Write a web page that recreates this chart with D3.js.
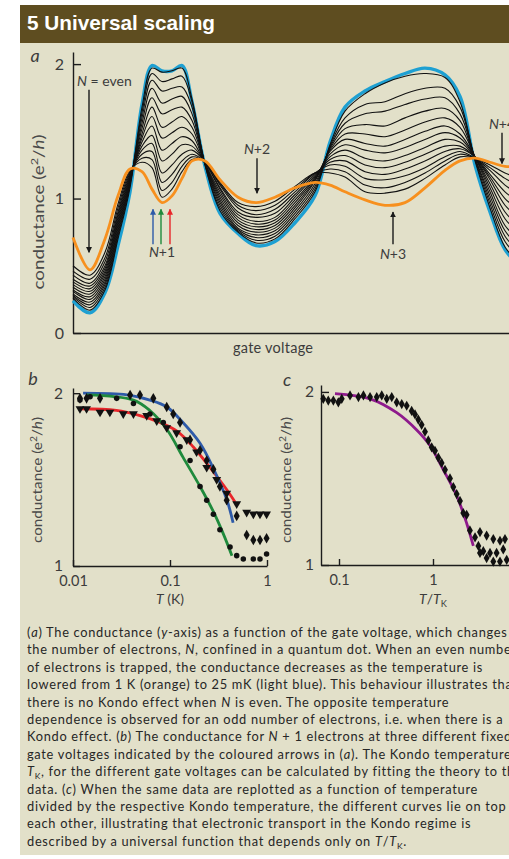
<!DOCTYPE html>
<meta charset="utf-8">
<title>Universal scaling</title>
<script src="https://cdn.jsdelivr.net/npm/d3@7/dist/d3.min.js"></script>
<style>
  body { margin: 0; background: #fff; overflow: hidden; }
  text { font-family: Lato, "Liberation Sans", sans-serif; }
</style>
<body>
<script>

// ---- panel a : conductance vs gate voltage (arbitrary units) ----
var gateV = [0, 17, 32, 45, 57, 69, 79, 89, 99, 109, 119, 132, 147, 165, 183, 202, 222, 242, 257, 272, 292, 312, 332, 352, 372, 387, 402, 417, 432, 447];

// 25 mK (light blue)
var coldG = [0.24, 0.15, 0.30, 0.65, 1.05, 1.70, 1.99, 1.95, 1.95, 1.99, 1.72, 1.24, 0.89, 0.74, 0.65, 0.68, 0.82, 1.02, 1.42, 1.68, 1.80, 1.87, 1.93, 1.97, 1.92, 1.76, 1.25, 0.90, 0.62, 0.50];
// 1 K (orange)
var hotG = [0.71, 0.47, 0.70, 1.02, 1.22, 1.20, 1.07, 0.97, 1.02, 1.15, 1.28, 1.28, 1.14, 1.01, 0.97, 1.01, 1.08, 1.12, 1.10, 1.05, 0.99, 0.95, 0.97, 1.08, 1.21, 1.28, 1.30, 1.27, 1.24, 1.24];
// intermediate temperatures (black), coldest first
var midG = [
  [0.26, 0.17, 0.32, 0.70, 1.08, 1.68, 1.97, 1.94, 1.95, 1.97, 1.74, 1.25, 0.91, 0.75, 0.67, 0.70, 0.85, 1.05, 1.40, 1.65, 1.78, 1.86, 1.91, 1.93, 1.90, 1.72, 1.28, 0.93, 0.64, 0.52],
  [0.27, 0.19, 0.34, 0.72, 1.10, 1.64, 1.93, 1.87, 1.89, 1.91, 1.72, 1.25, 0.93, 0.76, 0.69, 0.72, 0.87, 1.07, 1.39, 1.60, 1.70, 1.72, 1.78, 1.82, 1.82, 1.68, 1.29, 0.96, 0.68, 0.56],
  [0.28, 0.21, 0.36, 0.74, 1.11, 1.60, 1.88, 1.80, 1.82, 1.83, 1.68, 1.26, 0.95, 0.77, 0.71, 0.74, 0.89, 1.09, 1.38, 1.56, 1.63, 1.65, 1.70, 1.74, 1.75, 1.63, 1.30, 0.99, 0.72, 0.60],
  [0.29, 0.23, 0.38, 0.76, 1.12, 1.56, 1.82, 1.71, 1.74, 1.76, 1.63, 1.26, 0.97, 0.78, 0.73, 0.76, 0.91, 1.11, 1.37, 1.52, 1.55, 1.54, 1.60, 1.65, 1.67, 1.58, 1.30, 1.02, 0.76, 0.64],
  [0.31, 0.25, 0.40, 0.78, 1.13, 1.52, 1.75, 1.63, 1.66, 1.68, 1.58, 1.26, 0.99, 0.80, 0.75, 0.78, 0.93, 1.13, 1.36, 1.48, 1.48, 1.46, 1.51, 1.57, 1.60, 1.53, 1.31, 1.05, 0.80, 0.69],
  [0.32, 0.27, 0.42, 0.80, 1.14, 1.48, 1.68, 1.53, 1.57, 1.61, 1.53, 1.26, 1.01, 0.82, 0.77, 0.80, 0.95, 1.14, 1.35, 1.44, 1.41, 1.39, 1.44, 1.50, 1.54, 1.48, 1.31, 1.08, 0.85, 0.74],
  [0.34, 0.29, 0.44, 0.82, 1.15, 1.45, 1.61, 1.45, 1.49, 1.53, 1.48, 1.26, 1.03, 0.84, 0.79, 0.82, 0.97, 1.15, 1.33, 1.40, 1.36, 1.34, 1.38, 1.44, 1.49, 1.45, 1.31, 1.11, 0.90, 0.79],
  [0.36, 0.31, 0.46, 0.84, 1.16, 1.42, 1.54, 1.36, 1.41, 1.46, 1.43, 1.26, 1.05, 0.86, 0.81, 0.84, 0.99, 1.16, 1.31, 1.36, 1.30, 1.28, 1.32, 1.38, 1.44, 1.42, 1.31, 1.14, 0.95, 0.85],
  [0.38, 0.33, 0.48, 0.86, 1.17, 1.39, 1.47, 1.28, 1.33, 1.40, 1.39, 1.27, 1.07, 0.88, 0.83, 0.86, 1.01, 1.17, 1.29, 1.32, 1.25, 1.23, 1.27, 1.33, 1.39, 1.39, 1.31, 1.16, 1.00, 0.91],
  [0.40, 0.35, 0.50, 0.88, 1.18, 1.36, 1.41, 1.19, 1.25, 1.33, 1.36, 1.27, 1.08, 0.90, 0.86, 0.89, 1.03, 1.18, 1.27, 1.28, 1.20, 1.18, 1.22, 1.28, 1.35, 1.37, 1.31, 1.18, 1.05, 0.97],
  [0.43, 0.37, 0.53, 0.90, 1.19, 1.33, 1.35, 1.12, 1.18, 1.28, 1.33, 1.27, 1.10, 0.93, 0.88, 0.92, 1.05, 1.19, 1.25, 1.24, 1.15, 1.14, 1.17, 1.23, 1.31, 1.35, 1.30, 1.21, 1.10, 1.03],
  [0.46, 0.40, 0.56, 0.93, 1.20, 1.30, 1.29, 1.06, 1.12, 1.24, 1.31, 1.27, 1.11, 0.95, 0.91, 0.95, 1.07, 1.19, 1.22, 1.20, 1.10, 1.08, 1.12, 1.19, 1.28, 1.33, 1.30, 1.23, 1.15, 1.09],
  [0.50, 0.43, 0.60, 0.96, 1.21, 1.27, 1.23, 1.01, 1.07, 1.20, 1.29, 1.28, 1.12, 0.97, 0.94, 0.98, 1.09, 1.19, 1.19, 1.16, 1.05, 1.04, 1.07, 1.15, 1.25, 1.31, 1.30, 1.25, 1.19, 1.15]
];

// arrows in (a): gate voltage, start and tip conductance
var arrowsA = [
  { label: "N = even", gv: 16, from: 1.81, to: 0.60 },
  { label: "N+2", gv: 184, from: 1.30, to: 1.04 },
  { label: "N+3", gv: 320, from: 0.66, to: 0.90 },
  { label: "N+4", gv: 429, from: 1.49, to: 1.26 }
];
var kondoArrowGV = [80, 88, 97];
var kondoColors = ["#2e5aa8", "#1f8a3c", "#e8262a"];

// ---- panel b : conductance vs temperature (K) ----
var redFitT = [0.0118, 0.028, 0.049, 0.079, 0.118, 0.173, 0.258, 0.387, 0.468];
var redFitG = [1.91, 1.90, 1.87, 1.83, 1.78, 1.69, 1.57, 1.44, 1.37];
var blueFitT = [0.0127, 0.036, 0.062, 0.093, 0.136, 0.204, 0.277, 0.387, 0.447];
var blueFitG = [2.00, 1.99, 1.96, 1.92, 1.83, 1.71, 1.57, 1.38, 1.25];
var greenFitT = [0.0138, 0.042, 0.062, 0.093, 0.136, 0.204, 0.277, 0.352, 0.435];
var greenFitG = [1.99, 1.96, 1.90, 1.79, 1.63, 1.46, 1.32, 1.19, 1.06];

var triT = [0.0118, 0.0138, 0.019, 0.024, 0.033, 0.042, 0.0575, 0.073, 0.0925, 0.117, 0.149, 0.188, 0.239, 0.303, 0.384, 0.487, 0.617, 0.723, 0.847, 0.99];
var triG = [1.91, 1.91, 1.89, 1.89, 1.88, 1.88, 1.87, 1.84, 1.80, 1.77, 1.73, 1.66, 1.57, 1.50, 1.42, 1.36, 1.31, 1.30, 1.30, 1.30];
var diaT = [0.0118, 0.0138, 0.019, 0.0388, 0.049, 0.0673, 0.0925, 0.108, 0.127, 0.161, 0.204, 0.239, 0.28, 0.327, 0.384, 0.487, 0.617, 0.723, 0.847, 0.99];
var diaG = [1.97, 1.97, 1.97, 1.99, 1.99, 1.97, 1.92, 1.88, 1.83, 1.73, 1.67, 1.61, 1.56, 1.46, 1.38, 1.29, 1.18, 1.15, 1.15, 1.16];
var dotT = [0.0118, 0.015, 0.0282, 0.042, 0.0622, 0.0853, 0.127, 0.161, 0.204, 0.239, 0.28, 0.327, 0.416, 0.487, 0.57, 0.723, 0.847, 0.99];
var dotG = [1.96, 1.98, 1.97, 1.94, 1.88, 1.83, 1.69, 1.61, 1.46, 1.38, 1.30, 1.21, 1.11, 1.06, 1.04, 1.04, 1.04, 1.07];

// ---- panel c : conductance vs T/TK ----
var univFitX = [0.0906, 0.214, 0.411, 0.671, 0.929, 1.288, 1.787, 2.285, 2.685];
var univFitG = [1.99, 1.96, 1.88, 1.78, 1.69, 1.55, 1.40, 1.24, 1.11];
var scaledX = [0.068, 0.0769, 0.0871, 0.0984, 0.107, 0.131, 0.161, 0.182, 0.214, 0.252, 0.285, 0.322, 0.364, 0.411, 0.465, 0.525, 0.593, 0.644, 0.698, 0.757, 0.822, 0.891, 0.968, 1.05, 1.14, 1.236, 1.342, 1.517, 1.645, 1.786, 1.937, 2.10, 2.28, 2.47, 2.80, 3.16, 3.72, 4.38, 5.16, 5.83, 3.04, 3.43, 4.04, 4.75, 5.59, 3.16, 3.72, 4.38, 5.16, 6.08];
var scaledG = [1.96, 1.95, 1.95, 1.94, 1.96, 1.98, 1.97, 1.98, 1.97, 1.97, 1.98, 1.96, 1.97, 1.94, 1.93, 1.92, 1.89, 1.87, 1.84, 1.81, 1.77, 1.72, 1.68, 1.66, 1.62, 1.59, 1.55, 1.50, 1.45, 1.41, 1.37, 1.30, 1.29, 1.20, 1.16, 1.19, 1.17, 1.15, 1.14, 1.15, 1.11, 1.08, 1.07, 1.07, 1.09, 1.07, 1.04, 1.02, 1.02, 1.03];

var captionLines = [
  "(*a*) The conductance (*y*-axis) as a function of the gate voltage, which changes",
  "the number of electrons, *N*, confined in a quantum dot. When an even number",
  "of electrons is trapped, the conductance decreases as the temperature is",
  "lowered from 1 K (orange) to 25 mK (light blue). This behaviour illustrates that",
  "there is no Kondo effect when *N* is even. The opposite temperature",
  "dependence is observed for an odd number of electrons, i.e. when there is a",
  "Kondo effect. (*b*) The conductance for *N* + 1 electrons at three different fixed",
  "gate voltages indicated by the coloured arrows in (*a*). The Kondo temperature,",
  "*T*~K~, for the different gate voltages can be calculated by fitting the theory to the",
  "data. (*c*) When the same data are replotted as a function of temperature",
  "divided by the respective Kondo temperature, the different curves lie on top of",
  "each other, illustrating that electronic transport in the Kondo regime is",
  "described by a universal function that depends only on *T*/*T*~K~."
];

var bg = "#e2e0c9", ink = "#1c1c1c", grey = "#3c3c3c";

var svg = d3.select("body").append("svg")
    .attr("width", 560)
    .attr("height", 859);

svg.append("rect").attr("x", 20).attr("y", 5).attr("width", 540).attr("height", 850).attr("fill", bg);
svg.append("rect").attr("x", 20).attr("y", 5).attr("width", 540).attr("height", 38).attr("fill", "#5e4d20");
svg.append("text")
    .attr("x", 27).attr("y", 30)
    .attr("fill", "#fff")
    .attr("font-size", 21).attr("font-weight", "bold")
    .style("font-family", "'Liberation Sans Narrow', 'Liberation Sans', sans-serif")
    .attr("textLength", 188).attr("lengthAdjust", "spacingAndGlyphs")
    .text("5 Universal scaling");

// small helper: *italic*, ~subscript~, ^superscript^
function rich(sel, str) {
  str.split(/(\*[^*]+\*|~[^~]+~|\^[^^]+\^)/).filter(function(s) { return s; }).forEach(function(p) {
    if (p[0] === "*") sel.append("tspan").attr("font-style", "italic").text(p.slice(1, -1));
    else if (p[0] === "~") sel.append("tspan").attr("baseline-shift", "-2.5").attr("font-size", "66%").text(p.slice(1, -1));
    else if (p[0] === "^") sel.append("tspan").attr("baseline-shift", "super").attr("font-size", "68%").text(p.slice(1, -1));
    else sel.append("tspan").text(p);
  });
  return sel;
}

function styleAxis(g, size) {
  g.select(".domain").attr("stroke", ink).attr("stroke-width", 1.4);
  g.selectAll(".tick line").attr("stroke", ink).attr("stroke-width", 1.4);
  g.selectAll(".tick text").attr("fill", grey).attr("font-size", size)
      .style("font-family", "Lato, 'Liberation Sans', sans-serif");
}

function yLabel(x, y, len, size) {
  rich(svg.append("text")
      .attr("transform", "translate(" + x + "," + y + ") rotate(-90)")
      .attr("text-anchor", "middle")
      .attr("fill", "#4a4a4a").attr("font-size", size)
      .attr("textLength", len).attr("lengthAdjust", "spacingAndGlyphs"),
    "conductance (e^2^/*h*)");
}

// ================= panel a =================
var xA = d3.scaleLinear().domain([0, 447]).range([73, 520]);
var yA = d3.scaleLinear().domain([0, 2.09]).range([333, 52]);

svg.append("g").attr("transform", "translate(73,0)")
    .call(d3.axisLeft(yA).tickValues([0, 1, 2]).tickSizeInner(-8).tickSizeOuter(0).tickPadding(9).tickFormat(d3.format("d")))
    .call(styleAxis, 16);
svg.append("g").attr("transform", "translate(0,333)")
    .call(d3.axisBottom(xA).tickValues([]).tickSizeOuter(0))
    .call(styleAxis, 14);

var lineA = d3.line()
    .x(function(d) { return xA(d[0]); })
    .y(function(d) { return yA(d[1]); })
    .curve(d3.curveCatmullRom.alpha(0.5));

function zipA(vals) { return gateV.map(function(v, i) { return [v, vals[i]]; }); }

svg.append("path").datum(zipA(coldG)).attr("d", lineA)
    .attr("fill", "none").attr("stroke", "#1ea0d2").attr("stroke-width", 3.4);
svg.append("g").selectAll("path").data(midG).join("path")
    .attr("d", function(d) { return lineA(zipA(d)); })
    .attr("fill", "none").attr("stroke", "#111").attr("stroke-width", 1.1);
svg.append("path").datum(zipA(hotG)).attr("d", lineA)
    .attr("fill", "none").attr("stroke", "#f7901e").attr("stroke-width", 2.8);

// arrowheads
var defs = svg.append("defs");
["#1a1a1a"].concat(kondoColors).forEach(function(c, i) {
  defs.append("marker").attr("id", "ah" + i)
      .attr("viewBox", "0 0 10 10").attr("refX", 9).attr("refY", 5)
      .attr("markerWidth", 6).attr("markerHeight", 8).attr("markerUnits", "userSpaceOnUse")
      .attr("orient", "auto")
      .append("path").attr("d", "M0,0L10,5L0,10Z").attr("fill", c);
});

arrowsA.forEach(function(a) {
  svg.append("line")
      .attr("x1", xA(a.gv)).attr("x2", xA(a.gv))
      .attr("y1", yA(a.from)).attr("y2", yA(a.to))
      .attr("stroke", "#1a1a1a").attr("stroke-width", 1.4)
      .attr("marker-end", "url(#ah0)");
  var down = a.to < a.from;
  var t = svg.append("text")
      .attr("fill", grey).attr("font-size", 14)
      .attr("y", down ? yA(a.from) - 4 : yA(a.from) + 15);
  if (a.label === "N = even") {
    t.attr("x", xA(a.gv) - 12).attr("text-anchor", "start");
    rich(t, "*N* = even");
  } else {
    t.attr("x", xA(a.gv)).attr("text-anchor", "middle");
    rich(t, "*N*+" + a.label.slice(2));
  }
});

kondoArrowGV.forEach(function(gv, i) {
  svg.append("line")
      .attr("x1", xA(gv)).attr("x2", xA(gv))
      .attr("y1", yA(0.66)).attr("y2", yA(0.92))
      .attr("stroke", kondoColors[i]).attr("stroke-width", 1.4)
      .attr("marker-end", "url(#ah" + (i + 1) + ")");
});
rich(svg.append("text").attr("x", xA(89)).attr("y", yA(0.66) + 13)
    .attr("text-anchor", "middle").attr("fill", grey).attr("font-size", 14), "*N*+1");

svg.append("text").attr("x", 35).attr("y", 62).attr("font-size", 18).attr("font-style", "italic")
    .attr("fill", grey).attr("text-anchor", "middle").text("a");
yLabel(44, 212, 155, 15);
svg.append("text").attr("x", 273).attr("y", 353).attr("text-anchor", "middle")
    .attr("fill", grey).attr("font-size", 14.5).attr("textLength", 80).text("gate voltage");

// ================= panel b =================
var xB = d3.scaleLog().domain([0.01, 1]).range([73, 267]);
var yB = d3.scaleLinear().domain([1, 2.03]).range([566, 388]);

svg.append("g").attr("transform", "translate(73,0)")
    .call(d3.axisLeft(yB).tickValues([1, 2]).tickSizeInner(-7).tickSizeOuter(0).tickPadding(10).tickFormat(d3.format("d")))
    .call(styleAxis, 15.5);
svg.append("g").attr("transform", "translate(0,566)")
    .call(d3.axisBottom(xB).tickValues([0.01, 0.1, 1]).tickSizeInner(-6).tickSizeOuter(0).tickPadding(10)
      .tickFormat(function(d) { return d === 1 ? "1" : String(d); }))
    .call(styleAxis, 14.5);

var lineB = d3.line()
    .x(function(d) { return xB(d[0]); })
    .y(function(d) { return yB(d[1]); })
    .curve(d3.curveCatmullRom.alpha(0.5));
function zip(a, b) { return a.map(function(v, i) { return [v, b[i]]; }); }

[[redFitT, redFitG, "#e8262a"], [blueFitT, blueFitG, "#2e5aa8"], [greenFitT, greenFitG, "#1f8a3c"]].forEach(function(s) {
  svg.append("path").datum(zip(s[0], s[1])).attr("d", lineB)
      .attr("fill", "none").attr("stroke", s[2]).attr("stroke-width", 2.8);
});

function markers(data, sx, sy, type, size, rot) {
  svg.append("g").selectAll("path").data(data).join("path")
      .attr("d", d3.symbol().type(type).size(size))
      .attr("transform", function(d) { return "translate(" + sx(d[0]) + "," + sy(d[1]) + ") rotate(" + rot + ")"; })
      .attr("fill", "#111");
}
markers(zip(triT, triG), xB, yB, d3.symbolTriangle, 34, 180);
markers(zip(diaT, diaG), xB, yB, d3.symbolDiamond, 32, 0);
markers(zip(dotT, dotG), xB, yB, d3.symbolCircle, 24, 0);

svg.append("text").attr("x", 33).attr("y", 385).attr("font-size", 18).attr("font-style", "italic")
    .attr("fill", grey).attr("text-anchor", "middle").text("b");
yLabel(42, 480, 126, 13.5);
rich(svg.append("text").attr("x", 170).attr("y", 604).attr("text-anchor", "middle")
    .attr("fill", grey).attr("font-size", 14), "*T* (K)");

// ================= panel c =================
var xC = d3.scaleLog().domain([0.1, 1]).range([339, 433]);
var yC = d3.scaleLinear().domain([1, 2.04]).range([565, 385]);

svg.append("g").attr("transform", "translate(321,0)")
    .call(d3.axisLeft(yC).tickValues([1, 2]).tickSizeInner(-8).tickSizeOuter(0).tickPadding(7).tickFormat(d3.format("d")))
    .call(styleAxis, 15.5);
svg.append("g").attr("transform", "translate(0,565)")
    .call(d3.axisBottom(xC.copy().domain([xC.invert(321), xC.invert(560)]).range([321, 560]))
      .tickValues([0.1, 1]).tickSizeInner(-6).tickSizeOuter(0).tickPadding(10)
      .tickFormat(function(d) { return d === 1 ? "1" : String(d); }))
    .call(styleAxis, 14.5);

svg.append("path").datum(zip(univFitX, univFitG))
    .attr("d", d3.line().x(function(d) { return xC(d[0]); }).y(function(d) { return yC(d[1]); }).curve(d3.curveCatmullRom.alpha(0.5)))
    .attr("fill", "none").attr("stroke", "#8e1a8c").attr("stroke-width", 2.8);
markers(zip(scaledX, scaledG), xC, yC, d3.symbolDiamond, 30, 0);

svg.append("text").attr("x", 287).attr("y", 386).attr("font-size", 18).attr("font-style", "italic")
    .attr("fill", grey).attr("text-anchor", "middle").text("c");
yLabel(291, 480, 126, 13.5);
rich(svg.append("text").attr("x", 433).attr("y", 604).attr("text-anchor", "middle")
    .attr("fill", grey).attr("font-size", 14), "*T*/*T*~K~");

// ================= caption =================
var cap = svg.append("g").attr("fill", "#262626").attr("font-size", 12.8);
var capTexts = captionLines.map(function(s, i) {
  return rich(cap.append("text").attr("x", 27).attr("y", 637 + i * 17.4), s);
});
var firstW = capTexts[0].node().getComputedTextLength();
var ls = (480 - firstW) / (captionLines[0].replace(/[*~]/g, "").length - 1);
cap.attr("letter-spacing", ls);

</script>
